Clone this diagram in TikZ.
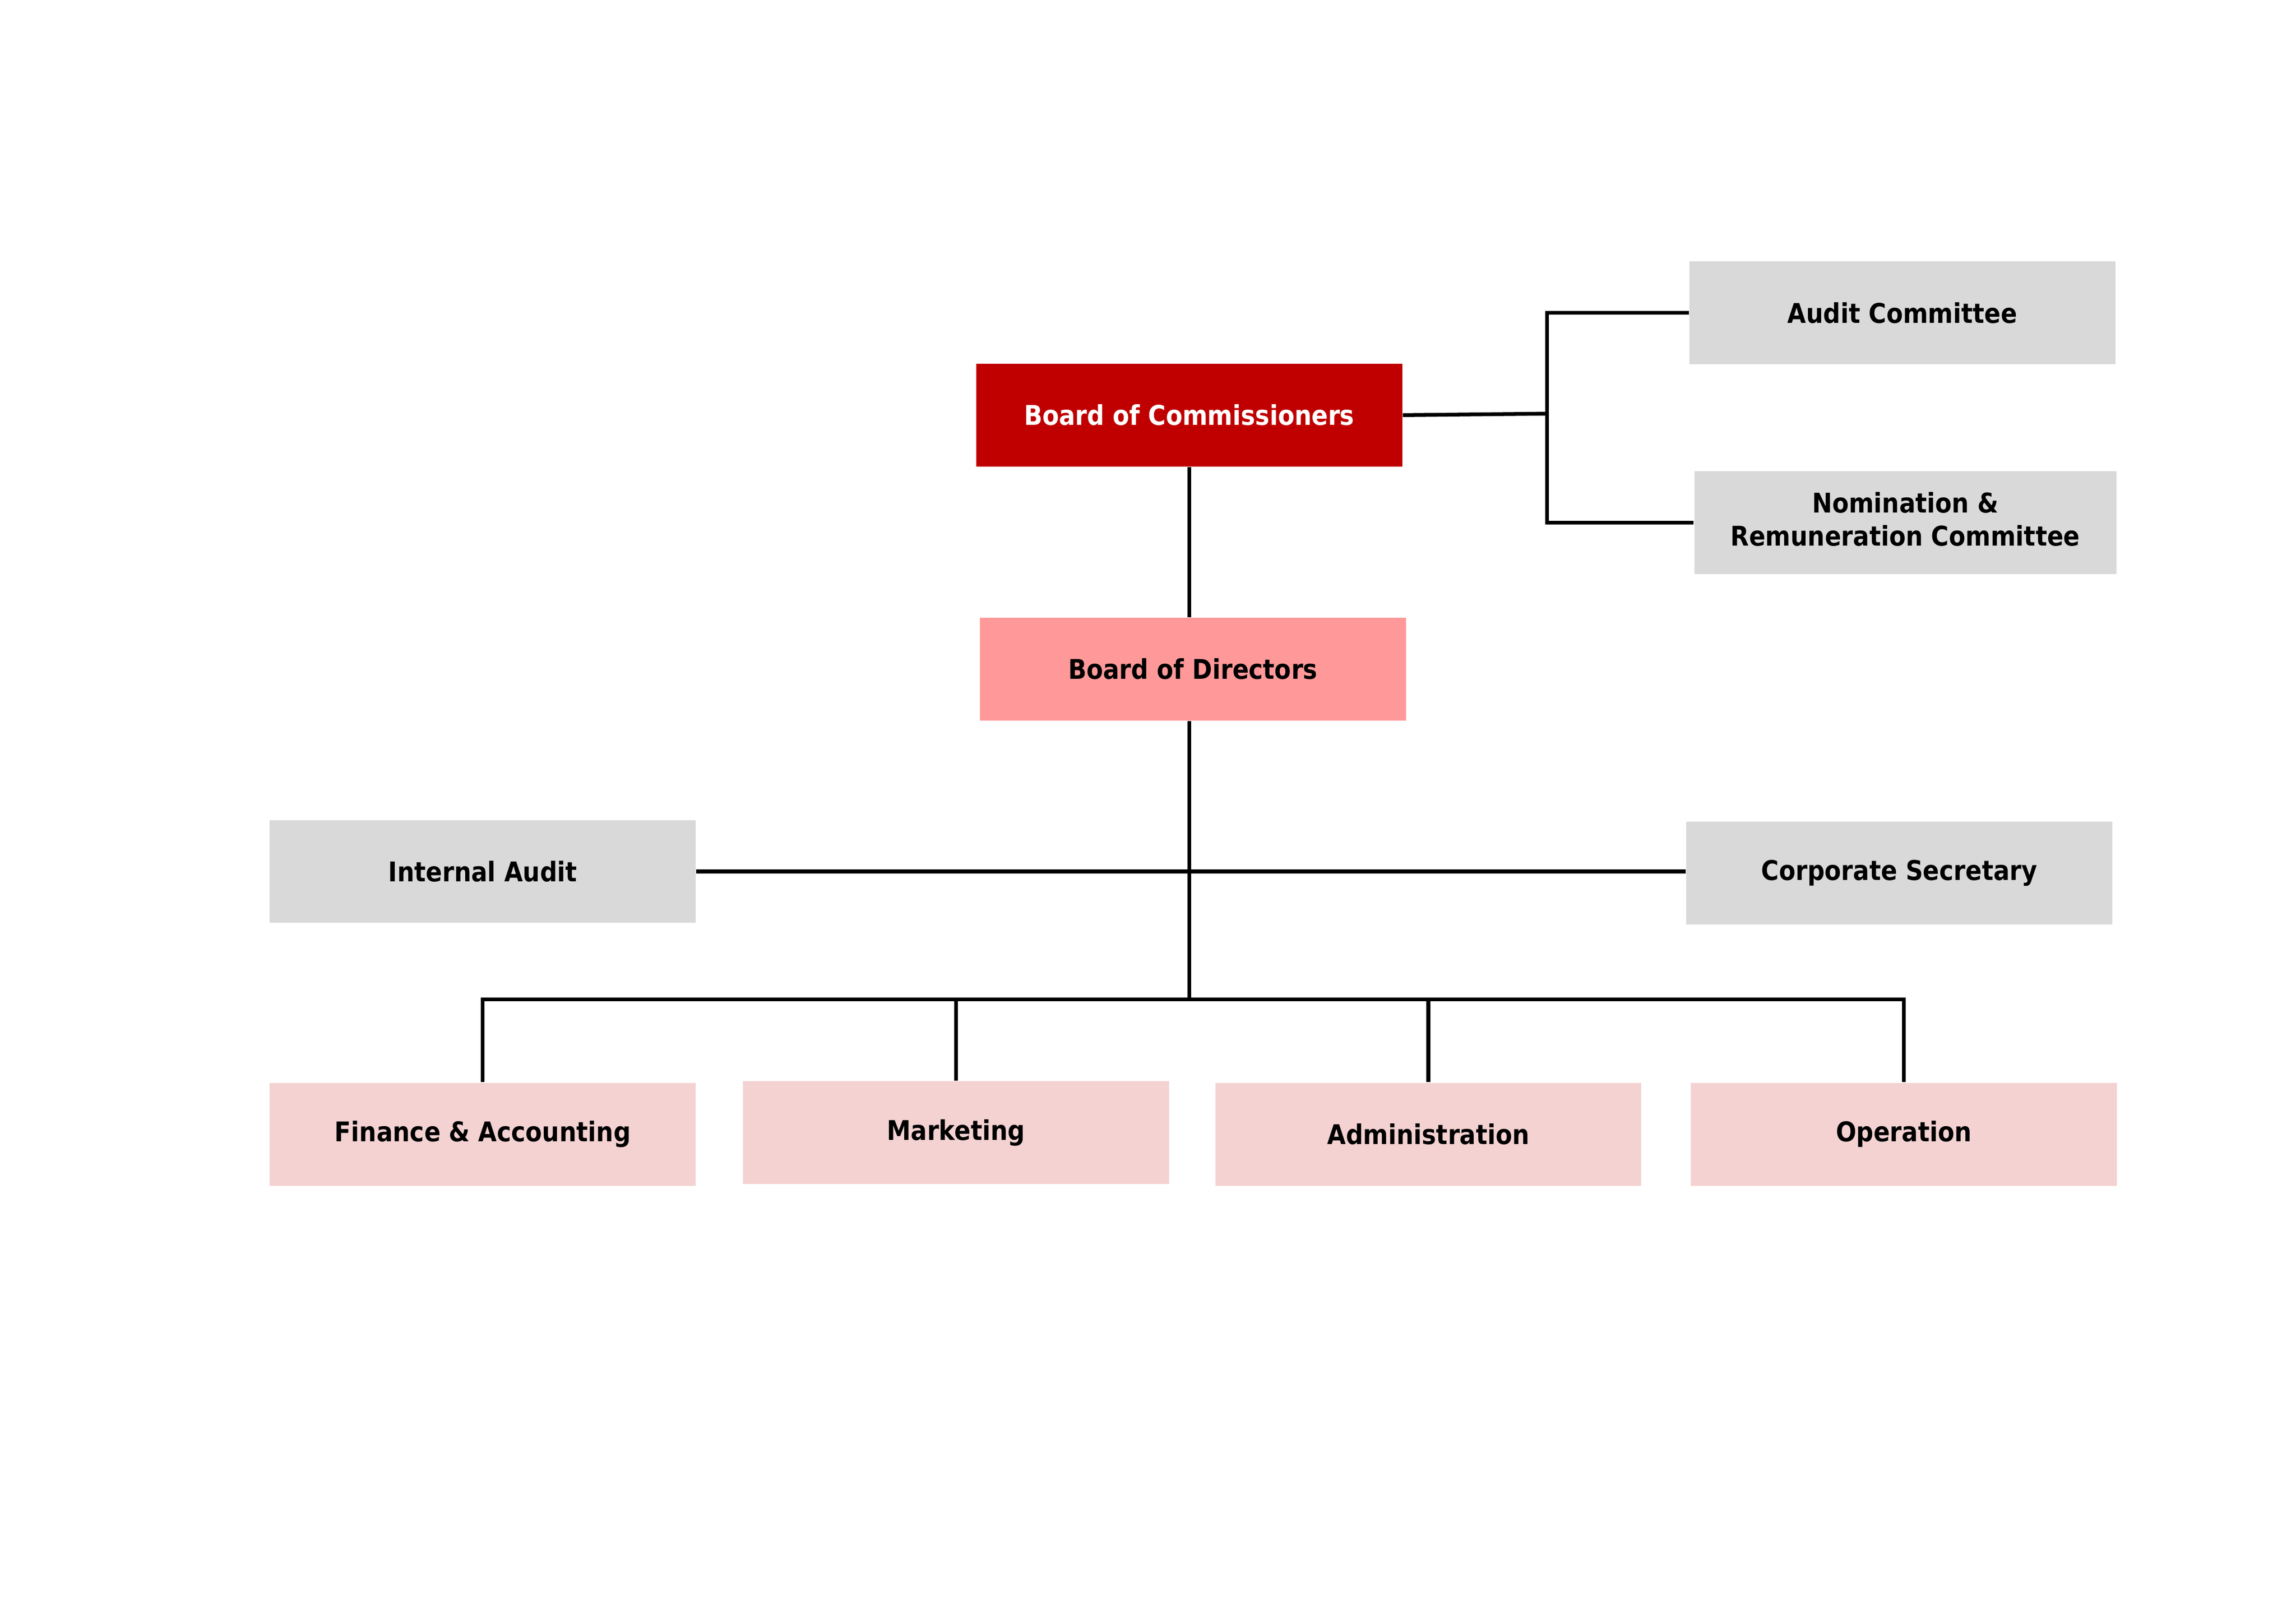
\documentclass[tikz,border=0pt]{standalone}
\usepackage{fontspec}
\newfontfamily\lblfont{DejaVu Sans}[FakeStretch=0.887]
\definecolor{bocred}{HTML}{C00000}
\definecolor{bodpink}{HTML}{FF9999}
\definecolor{boxgray}{HTML}{D9D9D9}
\definecolor{deptpink}{HTML}{F4D2D2}
\begin{document}
\begin{tikzpicture}[x=0.190385mm,y=-0.190385mm,
  orgbox/.style={rectangle,draw=none,inner sep=0pt,minimum width=55.1mm,minimum height=13.3mm,
    align=center,font=\lblfont\bfseries\fontsize{10}{12.2}\selectfont,text=black},
  conn/.style={line width=1.4pt,black}]
\useasboundingbox (0,0) rectangle (1560,1103);
\node[orgbox,fill=bocred,text=white] (boc) at (808,282) {Board of Commissioners};
\node[orgbox,fill=boxgray] (ac) at (1292.5,212.5) {Audit Committee};
\node[orgbox,fill=boxgray,minimum width=54.6mm] (nom) at (1294.5,355) {\raisebox{1.1mm}{\begin{tabular}{@{}c@{}}Nomination \&\\Remuneration Committee\end{tabular}}};
\node[orgbox,fill=bodpink] (bod) at (810.5,454.5) {Board of Directors};
\node[orgbox,fill=boxgray] (ia) at (328,592) {Internal Audit};
\node[orgbox,fill=boxgray] (cs) at (1290.5,593) {Corporate Secretary};
\node[orgbox,fill=deptpink] (fa) at (328,770.5) {Finance \& Accounting};
\node[orgbox,fill=deptpink] (mk) at (649.5,769.5) {Marketing};
\node[orgbox,fill=deptpink] (ad) at (970.5,770.5) {Administration};
\node[orgbox,fill=deptpink] (op) at (1293.5,770.5) {Operation};
\coordinate (j1) at (1051,281);
\coordinate (j2) at (808,679);
\draw[conn] (boc.east) -- (j1);
\draw[conn] (ac.west) -| (j1) |- (nom.west);
\draw[conn] (boc.south) -- (boc.south |- bod.north);
\draw[conn] (boc.south |- bod.south) -- (j2);
\draw[conn] (ia.east) -- (ia.east -| cs.west);
\draw[conn] (fa.north) -- (fa.north |- j2) -- (op.north |- j2) -- (op.north);
\draw[conn] (mk.north) -- (mk.north |- j2);
\draw[conn] (ad.north) -- (ad.north |- j2);
\end{tikzpicture}
\end{document}
